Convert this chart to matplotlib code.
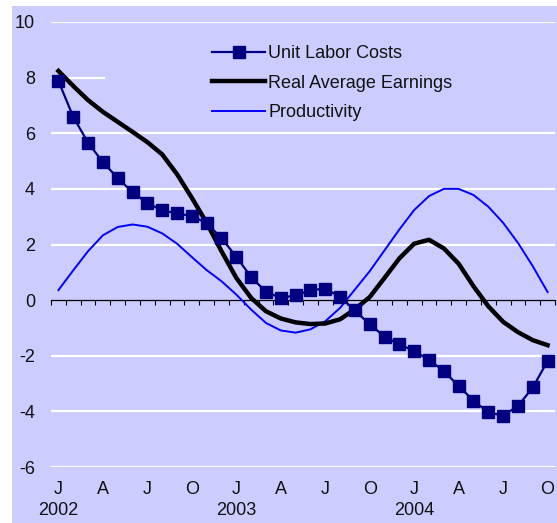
import matplotlib
matplotlib.use("Agg")
import matplotlib.pyplot as plt
from matplotlib.patches import Rectangle
import numpy as np

plt.rcParams['font.family'] = ['Liberation Sans', 'DejaVu Sans']

months = list(range(34))  # Jan 2002 .. Oct 2004
month_labels = ["J", "A", "J", "O"]
years = ["2002", "2003", "2004"]

unit_labor_costs = [7.88, 6.59, 5.66, 4.96, 4.39, 3.88, 3.49, 3.23, 3.12, 3.02,
                    2.77, 2.23, 1.56, 0.83, 0.30, 0.08, 0.17, 0.36, 0.41, 0.12,
                    -0.37, -0.87, -1.31, -1.59, -1.83, -2.15, -2.55, -3.09, -3.61, -4.04,
                    -4.15, -3.81, -3.14, -2.19]
real_avg_earnings = [8.24, 7.70, 7.19, 6.77, 6.41, 6.05, 5.68, 5.24, 4.53, 3.68,
                     2.78, 1.76, 0.80, 0.08, -0.40, -0.66, -0.80, -0.86, -0.84, -0.69,
                     -0.33, 0.11, 0.80, 1.50, 2.03, 2.17, 1.86, 1.31, 0.50, -0.22,
                     -0.78, -1.15, -1.44, -1.62]
productivity = [0.36, 1.07, 1.76, 2.33, 2.63, 2.72, 2.64, 2.40, 2.03, 1.55,
                1.08, 0.68, 0.20, -0.34, -0.82, -1.09, -1.17, -1.05, -0.76, -0.28,
                0.38, 1.04, 1.79, 2.54, 3.24, 3.74, 4.00, 4.00, 3.78, 3.36,
                2.78, 2.06, 1.22, 0.29]
y_ticks = [-6, -4, -2, 0, 2, 4, 6, 8, 10]

BG = "#CCCCFF"
FS = 13
W, H = 557, 523
fig = plt.figure(figsize=(W / 100, H / 100), dpi=100)
fig.patches.append(Rectangle((12 / W, 0), 1 - 12 / W, (H - 6) / H,
                             transform=fig.transFigure, facecolor=BG,
                             edgecolor="none", zorder=-10))

ax = fig.add_axes([51 / W, (H - 467) / H, 504 / W, 445 / H])
ax.set_zorder(1)
ax.patch.set_visible(False)
ax.set_xlim(-0.5, 33.5)
ax.set_ylim(-6, 10)

# horizontal gridlines
for v in y_ticks:
    if v == 0:
        continue
    xmax = (104 - 51) / 504 if v == 8 else 1.0
    ax.axhline(v, xmin=0, xmax=xmax, color="white", lw=1.6, zorder=1)

for s in ["top", "right", "left"]:
    ax.spines[s].set_visible(False)
ax.spines["bottom"].set_position(("data", 0))
ax.spines["bottom"].set_color("black")
ax.spines["bottom"].set_linewidth(0.9)
ax.spines["bottom"].set_zorder(2)

ax.set_xticks(np.arange(-0.5, 34, 1.0))
ax.tick_params(axis="x", direction="out", length=3.8, width=0.8,
               color="black", labelbottom=False)
ax.set_yticks(y_ticks)
ax.set_yticklabels([str(v) for v in y_ticks])
ax.tick_params(axis="y", length=0, pad=11.5, labelsize=FS, labelcolor="#111111")

sec = ax.secondary_xaxis("bottom")
sec.spines["bottom"].set_visible(False)
lab_pos = months[::3]
labs = []
for m in lab_pos:
    lab = month_labels[(m % 12) // 3]
    if m % 12 == 0:
        lab = lab + "\n" + years[m // 12]
    labs.append(lab)
sec.set_xticks(lab_pos)
sec.set_xticklabels(labs, fontsize=FS, linespacing=1.3, color="#111111")
sec.tick_params(axis="x", length=0, pad=10)

ax.plot(months, unit_labor_costs, color="#000080", lw=1.6, marker="s",
        markersize=8, label="Unit Labor Costs", zorder=5)
ax.plot(months, real_avg_earnings, color="black", lw=3.2,
        label="Real Average Earnings", zorder=4)
ax.plot(months, productivity, color="#0000FF", lw=1.4,
        label="Productivity", zorder=3)

leg = ax.legend(loc="upper left", bbox_to_anchor=((212 - 51) / 504, 0.948),
                frameon=False, fontsize=FS, handlelength=2.94, handletextpad=0.17,
                labelspacing=0.70, borderpad=0, borderaxespad=0)
for t in leg.get_texts():
    t.set_color("#111111")

fig.savefig("out.png", dpi=100)
